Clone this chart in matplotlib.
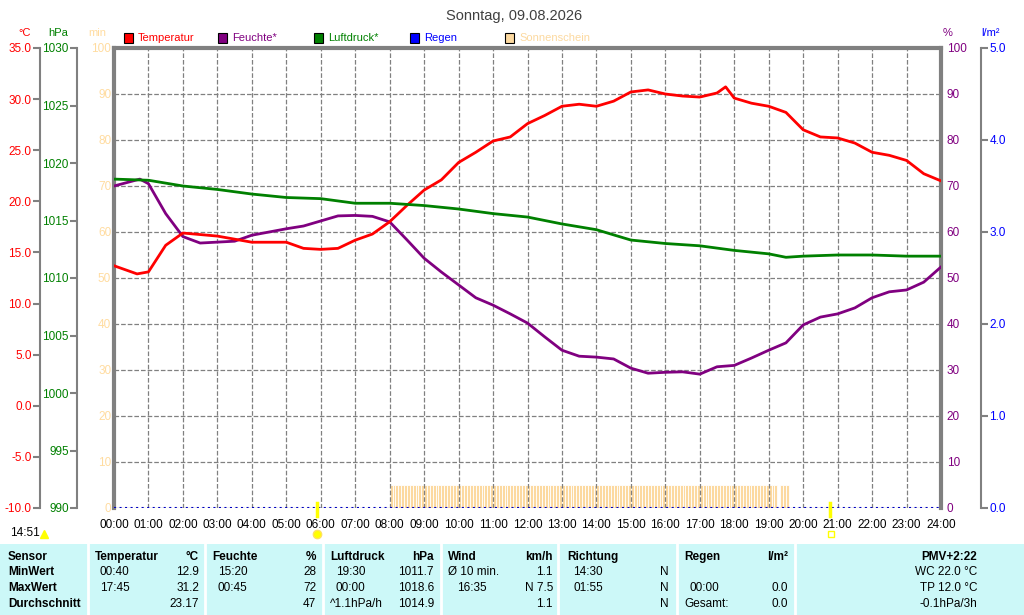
import numpy as np
import matplotlib.pyplot as plt
from matplotlib.patches import Rectangle

plt.rcParams['font.family'] = ['Liberation Sans', 'DejaVu Sans']

# measurements (hours since midnight)
t_hours = [0, 0.67, 1, 1.5, 2, 3, 4, 5, 5.5, 6, 6.5, 7, 7.5, 8, 8.5, 9, 9.5, 10, 10.5, 11, 11.5,
           12, 12.5, 13, 13.5, 14, 14.5, 15, 15.5, 16, 16.5, 17, 17.5, 17.75, 18, 18.5, 19, 19.5,
           20, 20.5, 21, 21.5, 22, 22.5, 23, 23.5, 24]
temp = [13.7, 12.9, 13.1, 15.7, 16.9, 16.6, 16.0, 16.0, 15.4, 15.3, 15.4, 16.2, 16.8, 18.0, 19.6,
        21.1, 22.1, 23.8, 24.8, 25.9, 26.3, 27.6, 28.4, 29.3, 29.5, 29.3, 29.8, 30.7, 30.9, 30.5,
        30.3, 30.2, 30.6, 31.2, 30.1, 29.6, 29.3, 28.7, 27.0, 26.3, 26.2, 25.7, 24.8, 24.5, 24.0,
        22.7, 22.0]
h_hours = [0, 0.75, 1, 1.5, 2, 2.5, 3, 3.5, 4, 4.5, 5, 5.5, 6, 6.5, 7, 7.5, 8, 8.5, 9, 9.5, 10,
           10.5, 11, 11.5, 12, 12.5, 13, 13.5, 14, 14.5, 15, 15.5, 16, 16.5, 17, 17.5, 18, 18.5,
           19, 19.5, 20, 20.5, 21, 21.5, 22, 22.5, 23, 23.5, 24]
hum = [70, 71.5, 70.5, 64, 59, 57.6, 57.8, 58, 59.3, 60, 60.7, 61.3, 62.4, 63.5, 63.6, 63.4, 62.2,
       58.3, 54.3, 51.3, 48.5, 45.7, 44.1, 42.2, 40.2, 37.2, 34.3, 33, 32.8, 32.4, 30.4, 29.3, 29.5,
       29.6, 29.1, 30.7, 31.0, 32.6, 34.3, 35.9, 39.8, 41.5, 42.2, 43.5, 45.7, 47, 47.4, 49.1, 52.4]
p_hours = [0, 1, 2, 3, 4, 5, 6, 7, 8, 9, 10, 11, 12, 13, 14, 15, 16, 17, 18, 19, 19.5, 20, 21, 22,
           23, 24]
press = [1018.6, 1018.5, 1018.0, 1017.7, 1017.3, 1017.0, 1016.9, 1016.5, 1016.5, 1016.3, 1016.0,
         1015.6, 1015.3, 1014.7, 1014.2, 1013.3, 1013.0, 1012.8, 1012.4, 1012.1, 1011.8, 1011.9,
         1012.0, 1012.0, 1011.9, 1011.9]
sun_start = [8.0, 19.33]
sun_end = [19.25, 19.58]
sun_minutes = 5

W, H = 1024, 615
fig = plt.figure(figsize=(W / 100, H / 100), dpi=100)

def fx(x): return x / W
def fy(y): return 1 - y / H
PT = 72 / 100  # points per pixel

ax = fig.add_axes([fx(114), fy(508), fx(941) - fx(114), fy(48) - fy(508)])
ax.set_xlim(0, 24)
ax.set_ylim(0, 100)

# sunshine bars
for s, e in zip(sun_start, sun_end):
    xs = np.arange(s, e, 1 / 12)
    ax.bar(xs, [sun_minutes] * len(xs), width=1 / 12, align='edge',
           bottom=0, color='#fcd9a0', edgecolor='white', linewidth=0.6, zorder=1)

ax_t = ax.twinx()
ax_p = ax.twinx()
ax_r = ax.twinx()
ax_t.set_ylim(-10, 35)
ax_p.set_ylim(990, 1030)
ax_r.set_ylim(0, 5)

ax_p.plot(p_hours, press, color='#008000', lw=2, zorder=3)
ax.plot(h_hours, hum, color='#800080', lw=2, zorder=3)
ax_t.plot(t_hours, temp, color='#ff0000', lw=2, zorder=4)
ax_r.plot([0, 24], [0, 0], color='#0000c0', lw=1.5, ls=':')

ax.grid(True, color='#808080', ls='--', lw=0.9)
ax.set_xticks(range(25))
ax.set_xticklabels([f'{h:02d}:00' for h in range(25)], fontsize=8.5)
ax.set_yticks(range(0, 101, 10))
ax.tick_params(axis='x', length=0, pad=8)
ax.tick_params(axis='y', length=0, labelcolor='#ffdca0', labelsize=8.5, pad=2)
for sp in ['left', 'top', 'right']:
    ax.spines[sp].set_color('#808080')
    ax.spines[sp].set_linewidth(3)
ax.spines['bottom'].set_visible(False)

# right % labels in purple
ax2 = ax.secondary_yaxis('right')
ax2.set_yticks(range(0, 101, 10))
ax2.tick_params(length=0, labelcolor='#800080', labelsize=8.5, pad=4)
ax2.spines['right'].set_visible(False)

for a in (ax_t, ax_p, ax_r):
    for sp in a.spines.values():
        sp.set_visible(False)

ax_t.yaxis.set_ticks_position('left')
ax_t.spines['left'].set_visible(True)
ax_t.spines['left'].set_position(('outward', 74 * PT))
ax_t.spines['left'].set_color('#808080')
ax_t.spines['left'].set_linewidth(1.5)
ax_t.set_yticks(np.arange(-10, 35.1, 5))
ax_t.set_yticklabels([f'{v:.1f}' for v in np.arange(-10, 35.1, 5)])
ax_t.tick_params(axis='y', colors='#808080', labelcolor='#ff0000', labelsize=8.5, length=5, width=1.5, pad=1)

ax_p.yaxis.set_ticks_position('left')
ax_p.spines['left'].set_visible(True)
ax_p.spines['left'].set_position(('outward', 37 * PT))
ax_p.spines['left'].set_color('#808080')
ax_p.spines['left'].set_linewidth(1.5)
ax_p.set_yticks(range(990, 1031, 5))
ax_p.tick_params(axis='y', colors='#808080', labelcolor='#008000', labelsize=8.5, length=5, width=1.5, pad=1)

ax_r.spines['right'].set_visible(True)
ax_r.spines['right'].set_position(('outward', 40 * PT))
ax_r.spines['right'].set_color('#808080')
ax_r.spines['right'].set_linewidth(1.5)
ax_r.set_yticks([0, 1, 2, 3, 4, 5])
ax_r.set_yticklabels([f'{v:.1f}' for v in [0, 1, 2, 3, 4, 5]])
ax_r.tick_params(axis='y', colors='#808080', labelcolor='#0000ff', labelsize=8.5, length=5, width=1.5, pad=1)

# title, units, legend
fig.text(fx(514), fy(16), 'Sonntag, 09.08.2026', ha='center', va='center', fontsize=10.5, color='#404040')
for x, s, c in [(25, '°C', '#ff0000'), (58, 'hPa', '#008000'), (97, 'min', '#ffdca0'),
                (948, '%', '#800080'), (990, 'l/m²', '#0000ff')]:
    fig.text(fx(x), fy(33), s, ha='center', va='center', fontsize=8, color=c)
for x, s, c in [(124, 'Temperatur', '#ff0000'), (218, 'Feuchte*', '#800080'),
                (314, 'Luftdruck*', '#008000'), (410, 'Regen', '#0000ff'),
                (505, 'Sonnenschein', '#fcd9a0')]:
    fig.patches.append(Rectangle((fx(x), fy(43)), fx(9), fy(33) - fy(43), transform=fig.transFigure,
                                 facecolor=c, edgecolor='black', lw=0.8))
    fig.text(fx(x + 14), fy(38), s, ha='left', va='center', fontsize=8, color=c)

# sunrise / sunset markers
for x in (317, 830):
    fig.lines.append(plt.Line2D([fx(x), fx(x)], [fy(503), fy(516)], transform=fig.transFigure,
                                color='#ffff00', lw=2.5))
fig.lines.append(plt.Line2D([fx(317)], [fy(534)], transform=fig.transFigure, marker='o',
                            markersize=6, color='#ffff00', markeredgecolor='#ffe060'))
fig.lines.append(plt.Line2D([fx(831)], [fy(534)], transform=fig.transFigure, marker='s',
                            markersize=5, markerfacecolor='none', markeredgecolor='#ffff00'))
fig.text(fx(10), fy(533), '14:51', ha='left', va='center', fontsize=8.5)
fig.lines.append(plt.Line2D([fx(44)], [fy(534)], transform=fig.transFigure, marker='^',
                            markersize=6, color='#ffff00'))

# statistics table
fig.patches.append(Rectangle((0, 0), 1, fy(544), transform=fig.transFigure,
                             facecolor='#ccf8f8', edgecolor='none'))
for x in (88, 205, 323, 441, 558, 677, 795):
    fig.lines.append(plt.Line2D([fx(x), fx(x)], [0, fy(544)], transform=fig.transFigure,
                                color='white', lw=2))
rows_y = [557, 572, 588, 604]
cells = [
    (8, 'l', ['Sensor', 'MinWert', 'MaxWert', 'Durchschnitt'], True),
    (95, 'l', ['Temperatur', '', '', ''], True),
    (100, 'l', ['', '00:40', '17:45', ''], False),
    (199, 'r', ['°C', '12.9', '31.2', '23.17'], None),
    (212, 'l', ['Feuchte', '', '', ''], True),
    (218, 'l', ['', '15:20', '00:45', ''], False),
    (316, 'r', ['%', '28', '72', '47'], None),
    (330, 'l', ['Luftdruck', '', '', '^1.1hPa/h'], None),
    (336, 'l', ['', '19:30', '00:00', ''], False),
    (434, 'r', ['hPa', '1011.7', '1018.6', '1014.9'], None),
    (448, 'l', ['Wind', 'Ø 10 min.', '', ''], None),
    (457, 'l', ['', '', '16:35', ''], False),
    (553, 'r', ['km/h', '1.1', 'N 7.5', '1.1'], None),
    (567, 'l', ['Richtung', '', '', ''], True),
    (573, 'l', ['', '14:30', '01:55', ''], False),
    (669, 'r', ['', 'N', 'N', 'N'], False),
    (684, 'l', ['Regen', '', '', 'Gesamt:'], None),
    (690, 'l', ['', '', '00:00', ''], False),
    (788, 'r', ['l/m²', '', '0.0', '0.0'], None),
    (977, 'r', ['PMV+2:22', 'WC 22.0 °C', 'TP 12.0 °C', '-0.1hPa/3h'], None),
]
for x, al, texts, bold in cells:
    for i, (y, s) in enumerate(zip(rows_y, texts)):
        if not s:
            continue
        b = bold if bold is not None else (i == 0)
        if x == 8:
            b = True
        fig.text(fx(x), fy(y), s, ha='left' if al == 'l' else 'right', va='center',
                 fontsize=8.5, fontweight='bold' if b else 'normal', color='black')

fig.savefig('out.png', dpi=100)
